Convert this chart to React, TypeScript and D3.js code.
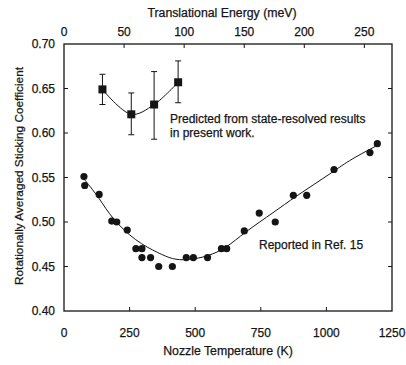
import React from "react";
import * as d3 from "d3";

// Predicted sticking coefficients (state-resolved), plotted against translational energy
const predEnergy = [32, 56, 75, 95];
const predValue = [0.649, 0.621, 0.632, 0.657];
const predLow = [0.632, 0.598, 0.593, 0.634];
const predHigh = [0.666, 0.645, 0.669, 0.681];

// Reported sticking coefficients vs nozzle temperature
const refTemp = [76, 79, 134, 182, 201, 241, 274, 297, 297, 330, 361, 413, 466, 493, 547, 600, 620, 687, 744, 805, 874, 925, 1029, 1166, 1194];
const refValue = [0.551, 0.541, 0.531, 0.501, 0.5, 0.491, 0.47, 0.47, 0.46, 0.46, 0.45, 0.45, 0.46, 0.46, 0.46, 0.47, 0.47, 0.49, 0.51, 0.5, 0.53, 0.53, 0.559, 0.578, 0.588];

// Smooth trend through the reported data
const fitTemp = [80, 137, 182, 274, 361, 413, 466, 547, 620, 686, 805, 874, 1029, 1090, 1200];
const fitValue = [0.547, 0.526, 0.504, 0.478, 0.465, 0.458, 0.457, 0.461, 0.471, 0.488, 0.512, 0.527, 0.557, 0.57, 0.587];

const tempTicks = [0, 250, 500, 750, 1000, 1250];
const energyTicks = [0, 50, 100, 150, 200, 250];
const yTicks = [0.4, 0.45, 0.5, 0.55, 0.6, 0.65, 0.7];

const W = 406;
const H = 365;
const L = 64, R = 392, T = 44, B = 311;
const font = "'Liberation Sans', Arial, sans-serif";
const ink = "#151515";
const textStyle = { fill: ink, stroke: ink, strokeWidth: 0.25 };

export default function App() {
  const x = d3.scaleLinear().domain([0, 1250]).range([L, R]);
  const xe = d3.scaleLinear().domain([0, 273]).range([L, R]);
  const y = d3.scaleLinear().domain([0.4, 0.7]).range([B, T]);

  const fitLine = d3
    .line<number>()
    .x((_, i) => x(fitTemp[i]))
    .y((d) => y(d))
    .curve(d3.curveBasis);

  const predLine = d3
    .line<number>()
    .x((_, i) => xe(predEnergy[i]))
    .y((d) => y(d))
    .curve(d3.curveCatmullRom.alpha(0.5));

  const tk = 4;
  return (
    <svg
      width={W}
      height={H}
      style={{ position: "absolute", left: 0, top: 0, background: "#fff" }}
      fontFamily={font}
    >
      {/* frame */}
      <rect x={L} y={T} width={R - L} height={B - T} fill="none" stroke={ink} strokeWidth={1.3} />

      {/* ticks */}
      {tempTicks.slice(1, -1).map((t) => (
        <line key={"bt" + t} x1={x(t)} x2={x(t)} y1={B} y2={B - tk} stroke={ink} strokeWidth={1} />
      ))}
      {energyTicks.slice(1).map((t) => (
        <line key={"tt" + t} x1={xe(t)} x2={xe(t)} y1={T} y2={T + tk} stroke={ink} strokeWidth={1} />
      ))}
      {yTicks.slice(1, -1).map((t) => (
        <g key={"yt" + t}>
          <line x1={L} x2={L + tk} y1={y(t)} y2={y(t)} stroke={ink} strokeWidth={1} />
          <line x1={R} x2={R - tk} y1={y(t)} y2={y(t)} stroke={ink} strokeWidth={1} />
        </g>
      ))}

      {/* tick labels */}
      {tempTicks.map((t) => (
        <text key={"bl" + t} x={x(t)} y={337} textAnchor="middle" fontSize={12} style={textStyle}>
          {t}
        </text>
      ))}
      {energyTicks.map((t) => (
        <text key={"tl" + t} x={xe(t)} y={36} textAnchor="middle" fontSize={12} style={textStyle}>
          {t}
        </text>
      ))}
      {yTicks.map((t) => (
        <text key={"yl" + t} x={55} y={y(t) + 4} textAnchor="end" fontSize={12} style={textStyle}>
          {d3.format(".2f")(t)}
        </text>
      ))}

      {/* axis titles */}
      <text x={228} y={355} textAnchor="middle" fontSize={12.3} style={textStyle}>
        Nozzle Temperature (K)
      </text>
      <text x={222} y={17} textAnchor="middle" fontSize={12.3} style={textStyle}>
        Translational Energy (meV)
      </text>
      <text
        transform={`translate(23,176) rotate(-90)`}
        textAnchor="middle"
        fontSize={11.8}
        style={textStyle}
      >
        Rotationally Averaged Sticking Coefficient
      </text>

      {/* reported data */}
      <path d={fitLine(fitValue) ?? ""} fill="none" stroke={ink} strokeWidth={1} />
      {refValue.map((v, i) => (
        <circle key={"rd" + i} cx={x(refTemp[i])} cy={y(v)} r={3.6} fill={ink} />
      ))}

      {/* predicted data with error bars */}
      <path d={predLine(predValue) ?? ""} fill="none" stroke={ink} strokeWidth={1} />
      {predValue.map((v, i) => {
        const cx = xe(predEnergy[i]);
        return (
          <g key={"pd" + i}>
            <line x1={cx} x2={cx} y1={y(predLow[i])} y2={y(predHigh[i])} stroke={ink} strokeWidth={1} />
            <line x1={cx - 3} x2={cx + 3} y1={y(predLow[i])} y2={y(predLow[i])} stroke={ink} strokeWidth={1} />
            <line x1={cx - 3} x2={cx + 3} y1={y(predHigh[i])} y2={y(predHigh[i])} stroke={ink} strokeWidth={1} />
            <rect x={cx - 4} y={y(v) - 4} width={8} height={8} fill={ink} />
          </g>
        );
      })}

      {/* annotations */}
      <text x={170} y={123} fontSize={12} style={textStyle}>
        Predicted from state-resolved results
      </text>
      <text x={170} y={137} fontSize={12} style={textStyle}>
        in present work.
      </text>
      <text x={259} y={249} fontSize={12} style={textStyle}>
        Reported in Ref. 15
      </text>
    </svg>
  );
}
